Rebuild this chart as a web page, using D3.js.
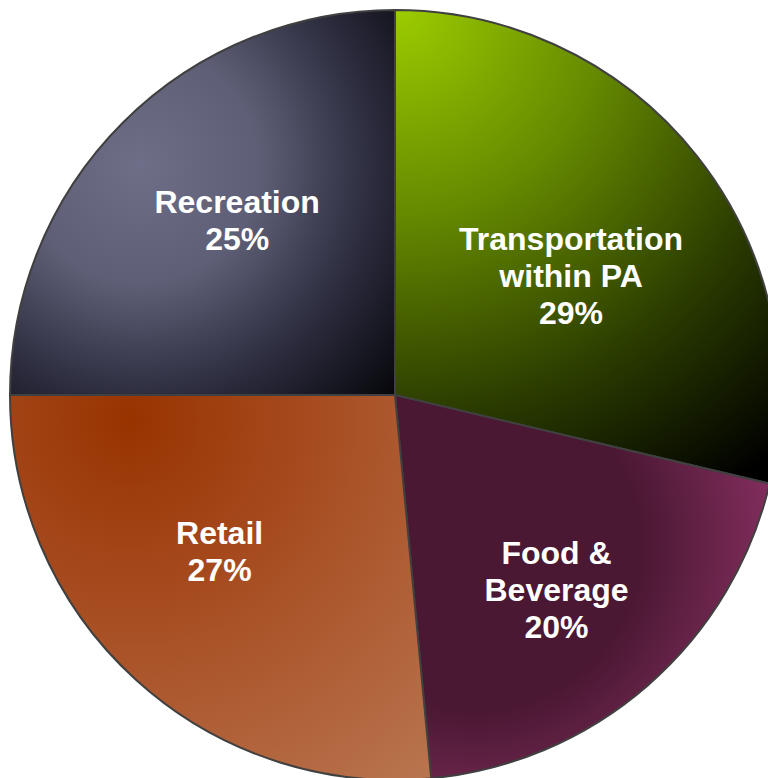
<!DOCTYPE html>
<html>
<head>
<meta charset="utf-8">
<script src="https://cdn.jsdelivr.net/npm/d3@7"></script>
<style>
  html, body { margin: 0; padding: 0; background: #fff; overflow: hidden; }
  #chart { width: 768px; height: 778px; }
</style>
</head>
<body>
<div id="chart"></div>
<script>
// slice data (clockwise from 12 o'clock)
const categories = ['Transportation within PA', 'Food & Beverage', 'Retail', 'Recreation'];
const shares = [28.7, 19.8, 26.5, 25.0];
const labelLines = [
    ['Transportation', 'within PA', '29%'],
    ['Food &', 'Beverage', '20%'],
    ['Retail', '27%'],
    ['Recreation', '25%']
];

const width = 768;
const height = 778;

function createPie(){
    const cx = 395, cy = 395, radius = 385;

    const svg = d3.select('#chart')
        .append('svg')
        .attr('width', width)
        .attr('height', height);

    const defs = svg.append('defs');

    // gradients, one per slice (user space, relative to pie center)
    const grads = [
        { id: 'g0', cx: 5, cy: -385, r: 580, stops: [[0, '#9ccc00'], [0.35, '#668a00'], [0.7, '#2a3b00'], [1, '#000000']] },
        { id: 'g1', cx: 80, cy: 150, r: 330, stops: [[0, '#4a1832'], [0.5, '#4a1832'], [1, '#8e3266']] },
        { id: 'g2', cx: -265, cy: 25, r: 460, stops: [[0, '#983300'], [0.5, '#aa5228'], [1, '#b8744e']] },
        { id: 'g3', cx: -255, cy: -230, r: 340, stops: [[0, '#6e6e88'], [0.35, '#5e5e76'], [0.7, '#2a2a3c'], [1, '#07070c']] }
    ];

    grads.forEach(g => {
        const rg = defs.append('radialGradient')
            .attr('id', g.id)
            .attr('gradientUnits', 'userSpaceOnUse')
            .attr('cx', g.cx).attr('cy', g.cy).attr('r', g.r);
        g.stops.forEach(s => {
            rg.append('stop').attr('offset', s[0]).attr('stop-color', s[1]);
        });
    });

    const pie = d3.pie().sort(null).value(d => d);
    const arcs = pie(shares);

    const arc = d3.arc().innerRadius(0).outerRadius(radius);

    const g = svg.append('g').attr('transform', `translate(${cx}, ${cy})`);

    g.selectAll('path.slice')
        .data(arcs)
        .join('path')
        .attr('class', 'slice')
        .attr('d', arc)
        .attr('fill', (d, i) => `url(#${grads[i].id})`)
        .attr('stroke', '#404040')
        .attr('stroke-width', 2);

    // label placement: angle shift (deg) from mid angle + fraction of radius
    const labelPlace = [
        { shift: 5.7, frac: 0.543 },
        { shift: 2.2, frac: 0.669 },
        { shift: 4.9, frac: 0.621 },
        { shift: 1.8, frac: 0.599 }
    ];
    const lineH = 37;

    arcs.forEach((d, i) => {
        const mid = (d.startAngle + d.endAngle) / 2 + labelPlace[i].shift * Math.PI / 180;
        const rr = radius * labelPlace[i].frac;
        const x = Math.sin(mid) * rr;
        const y = -Math.cos(mid) * rr;
        const lines = labelLines[i];
        const t = g.append('text')
            .attr('text-anchor', 'middle')
            .attr('fill', '#ffffff')
            .style('font-family', 'Liberation Sans, Arial, sans-serif')
            .style('font-weight', 'bold')
            .style('font-size', '32px');
        lines.forEach((ln, j) => {
            t.append('tspan')
                .attr('x', x)
                .attr('y', y + (j - (lines.length - 1) / 2) * lineH + 5)
                .text(ln);
        });
    });
}

document.addEventListener('DOMContentLoaded', () => {
    createPie();
});
</script>
</body>
</html>
